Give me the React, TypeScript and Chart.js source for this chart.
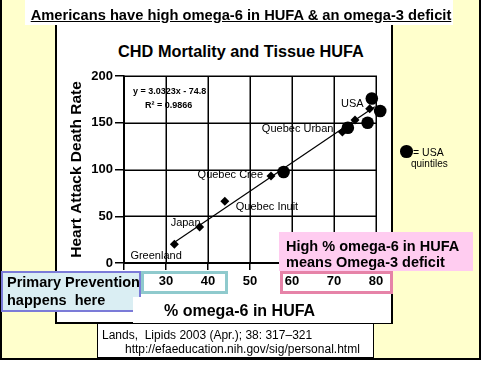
import React, { useEffect, useRef } from "react";
import { Chart, registerables } from "chart.js";

Chart.register(...registerables);

// ---- data ----
const xAxisMin = 20;
const xAxisMax = 80;
const xAxisStep = 10;
const yAxisMin = 0;
const yAxisMax = 200;
const yAxisStep = 50;
const populations = ["Greenland", "Japan", "Quebec Inuit", "Quebec Cree", "Quebec Urban", "", "USA"];
const popOmega6 = [32, 38, 44, 55, 72, 75, 78.5];
const popDeathRate = [20, 38.5, 66, 93, 140, 153, 165];
const quintileOmega6 = [58, 73.3, 78, 79, 81];
const quintileDeathRate = [97.3, 144.7, 150, 176, 162.5];
const trendOmega6 = [31.5, 79.7];
const trendDeathRate = [20.7, 167];
const equationText = "y = 3.0323x - 74.8";
const r2Text = "R\u00b2 = 0.9866";

// label placement (style only)
const labelPlacement = [
  { align: "left", dx: -44, dy: 12 },
  { align: "right", dx: 1, dy: -4 },
  { align: "left", dx: 11, dy: 6 },
  { align: "right", dx: -8, dy: -1 },
  { align: "right", dx: -9, dy: -3 },
  { align: "left", dx: 0, dy: 0 },
  { align: "right", dx: -6, dy: -5 },
];

const FONT = '"Liberation Sans", Arial, Helvetica, sans-serif';

// draws the black grid lines across the plot at every scale tick
const gridPlugin = {
  id: "blackGrid",
  beforeDatasetsDraw(chart: any) {
    const ctx = chart.ctx;
    const { left, right, top, bottom } = chart.chartArea;
    const xs = chart.scales.x;
    const ys = chart.scales.y;
    ctx.save();
    ctx.strokeStyle = "#000";
    ctx.lineWidth = 1.5;
    ctx.beginPath();
    xs.ticks.forEach((t: any) => {
      const px = Math.round(xs.getPixelForValue(t.value)) + 0.25;
      ctx.moveTo(px, top - 0.5);
      ctx.lineTo(px, bottom + 0.5);
    });
    ys.ticks.forEach((t: any) => {
      const py = Math.round(ys.getPixelForValue(t.value)) + 0.25;
      ctx.moveTo(left - 0.5, py);
      ctx.lineTo(right + 0.5, py);
    });
    ctx.stroke();
    ctx.restore();
  },
};

const labelPlugin = {
  id: "pointLabels",
  afterDatasetsDraw(chart: any) {
    const ctx = chart.ctx;
    const meta = chart.getDatasetMeta(1);
    ctx.save();
    ctx.fillStyle = "#000";
    ctx.textBaseline = "middle";
    ctx.font = `11px ${FONT}`;
    populations.forEach((name, i) => {
      if (!name) return;
      const p = meta.data[i];
      const pl = labelPlacement[i];
      ctx.textAlign = pl.align;
      ctx.fillText(name, p.x + pl.dx, p.y + pl.dy);
    });
    const { left, top } = chart.chartArea;
    ctx.font = `bold 9px ${FONT}`;
    ctx.textAlign = "left";
    ctx.fillText(equationText, left + 9, top + 16);
    ctx.fillText(r2Text, left + 21, top + 30);
    ctx.restore();
  },
};

function ChartCanvas() {
  const ref = useRef<HTMLCanvasElement | null>(null);
  useEffect(() => {
    if (!ref.current) return;
    const chart = new Chart(ref.current, {
      type: "scatter",
      data: {
        datasets: [
          {
            label: "Trend",
            data: trendOmega6.map((x, i) => ({ x, y: trendDeathRate[i] })),
            showLine: true,
            borderColor: "#000",
            borderWidth: 1.2,
            pointRadius: 0,
            fill: false,
          },
          {
            label: "Populations",
            data: popOmega6.map((x, i) => ({ x, y: popDeathRate[i] })),
            pointStyle: "rectRot",
            pointRadius: 4.5,
            backgroundColor: "#000",
            borderColor: "#000",
            borderWidth: 0,
          },
          {
            label: "USA quintiles",
            data: quintileOmega6.map((x, i) => ({ x, y: quintileDeathRate[i] })),
            pointStyle: "circle",
            pointRadius: 6.3,
            backgroundColor: "#000",
            borderColor: "#000",
            borderWidth: 0,
            clip: false,
          },
        ],
      },
      options: {
        animation: false,
        responsive: false,
        devicePixelRatio: 1,
        layout: { padding: { left: 56, right: 106, top: 76, bottom: 74 } },
        plugins: {
          legend: { display: false },
          tooltip: { enabled: false },
          title: { display: false },
        },
        scales: {
          x: {
            type: "linear",
            min: xAxisMin,
            max: xAxisMax,
            afterFit: (s: any) => {
              s.height = 30;
            },
            grid: {
              display: true,
              drawOnChartArea: false,
              drawTicks: true,
              color: "#000",
              lineWidth: 1.5,
              tickLength: 7,
            },
            border: { display: true, color: "#000", width: 1.5 },
            ticks: {
              stepSize: xAxisStep,
              color: "#000",
              font: { family: FONT, weight: "bold", size: 13 },
              padding: 4,
              maxRotation: 0,
              autoSkip: false,
              callback: (v: any) => (v === xAxisMin ? "" : String(v)),
            },
            title: { display: false },
          },
          y: {
            type: "linear",
            min: yAxisMin,
            max: yAxisMax,
            afterFit: (s: any) => {
              s.width = 68;
            },
            grid: {
              display: true,
              drawOnChartArea: false,
              drawTicks: true,
              color: "#000",
              lineWidth: 1.5,
              tickLength: 9,
            },
            border: { display: true, color: "#000", width: 1.5 },
            ticks: {
              stepSize: yAxisStep,
              color: "#000",
              font: { family: FONT, weight: "bold", size: 13 },
              padding: 2,
              autoSkip: false,
            },
            title: {
              display: true,
              text: "Heart Attack Death Rate",
              color: "#000",
              font: { family: FONT, weight: "bold", size: 15.5 },
              padding: { top: 11.5, bottom: 0 },
            },
          },
        },
      },
      plugins: [gridPlugin, labelPlugin],
    } as any);
    return () => chart.destroy();
  }, []);
  return (
    <canvas
      ref={ref}
      width={482}
      height={367}
      style={{ position: "absolute", left: 0, top: 0, width: 482, height: 367 }}
    />
  );
}

const abs = (s: React.CSSProperties): React.CSSProperties => ({
  position: "absolute",
  boxSizing: "border-box",
  fontFamily: FONT,
  color: "#000",
  margin: 0,
  ...s,
});

export default function App() {
  useEffect(() => {
    document.body.style.margin = "0";
  }, []);
  return (
    <div style={{ position: "absolute", left: 0, top: 0, width: 482, height: 367, overflow: "hidden", background: "#fff" }}>
      {/* yellow slide frame */}
      <div style={abs({ left: 0, top: 0, width: 481, height: 360, background: "#FFFFCC", borderLeft: "2px solid #000", borderRight: "2px solid #000", borderBottom: "2px solid #000" })} />
      {/* white chart panel */}
      <div style={abs({ left: 55, top: 24, width: 338, height: 300, background: "#fff", borderLeft: "2px solid #000", borderRight: "2px solid #000", borderBottom: "2px solid #000" })} />
      {/* chart title */}
      <div style={abs({ left: 0, top: 41, width: 482, height: 20, lineHeight: "20px", textAlign: "center", fontWeight: "bold", fontSize: 16.3 })}>
        CHD Mortality and Tissue HUFA
      </div>
      <ChartCanvas />
      {/* slide title */}
      <div style={abs({ left: 25, top: 0, width: 428, height: 25, background: "#fff" })} />
      <div style={abs({ left: 0, top: 4.5, width: 482, lineHeight: "20px", textAlign: "center", fontWeight: "bold", fontSize: 14.7, textDecoration: "underline" })}>
        Americans have high omega-6 in HUFA &amp; an omega-3 deficit
      </div>
      {/* primary prevention box */}
      <div style={abs({ left: 1, top: 271, width: 140, height: 41, background: "#DAEEF3", border: "2px solid #7B7BD8" })} />
      <div style={abs({ left: 7, top: 273, lineHeight: "18px", fontWeight: "bold", fontSize: 14.5, whiteSpace: "pre" })}>
        {"Primary Prevention\nhappens  here"}
      </div>
      {/* x-axis title box */}
      <div style={abs({ left: 133, top: 297, width: 258, height: 26, background: "#fff" })} />
      <div style={abs({ left: 164, top: 300.5, lineHeight: "20px", fontWeight: "bold", fontSize: 16, whiteSpace: "pre" })}>
        % omega-6 in HUFA
      </div>
      {/* teal outline around 30-40 */}
      <div style={abs({ left: 141, top: 271, width: 87, height: 23, border: "3px solid #8FCACD" })} />
      {/* pink note */}
      <div style={abs({ left: 279, top: 232, width: 194, height: 39, background: "#FFCCF0" })} />
      <div style={abs({ left: 286, top: 238, lineHeight: "16px", fontWeight: "bold", fontSize: 14.5, whiteSpace: "pre" })}>
        {"High % omega-6 in HUFA\nmeans Omega-3 deficit"}
      </div>
      {/* pink outline around 60-80 */}
      <div style={abs({ left: 280, top: 271, width: 113, height: 23, border: "3px solid #E683A8" })} />
      {/* citation */}
      <div style={abs({ left: 97, top: 323, width: 277, height: 35, background: "#fff", border: "1.5px solid #000" })} />
      <div style={abs({ left: 102, top: 328, lineHeight: "14px", fontSize: 12, whiteSpace: "pre" })}>
        {"Lands,  Lipids 2003 (Apr.); 38: 317\u2013321"}
      </div>
      <div style={abs({ left: 125, top: 342, lineHeight: "14px", fontSize: 12, whiteSpace: "pre" })}>
        http://efaeducation.nih.gov/sig/personal.html
      </div>
      {/* legend */}
      <div style={abs({ left: 400, top: 145, width: 12.6, height: 12.6, borderRadius: "50%", background: "#000" })} />
      <div style={abs({ left: 413, top: 146, lineHeight: "12px", fontSize: 10.5, whiteSpace: "pre" })}>= USA</div>
      <div style={abs({ left: 411, top: 158, lineHeight: "12px", fontSize: 10, whiteSpace: "pre" })}>quintiles</div>
    </div>
  );
}
